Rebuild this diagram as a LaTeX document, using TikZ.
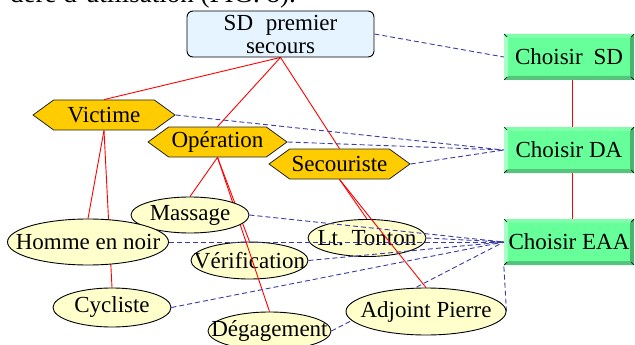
\documentclass[tikz,border=0pt]{standalone}
\usepackage{fontspec}
\setmainfont{Liberation Serif}
\usetikzlibrary{shapes.geometric,shapes.symbols}

\definecolor{sdblue}{HTML}{E6F4FF}
\definecolor{hexgold}{HTML}{FFCC00}
\definecolor{leafyellow}{HTML}{FFFFCC}
\definecolor{boxgreen}{HTML}{66FF99}
\definecolor{bevtop}{HTML}{80FFAA}
\definecolor{bevleft}{HTML}{A6FFC4}
\definecolor{bevbottom}{HTML}{55C47C}
\definecolor{bevright}{HTML}{4AB46E}
\definecolor{linkblue}{HTML}{3A3AA8}
\definecolor{treered}{HTML}{FF0000}

\pgfdeclarelayer{back}
\pgfsetlayers{back,main}

\newcommand\figfont{\fontsize{23pt}{23pt}\selectfont}
% zero-width text so that an ellipse keeps its given size
\newcommand\leaftext[1]{\makebox[0pt]{#1}}

\begin{document}
\begin{tikzpicture}[x=1pt,y=-1pt,
  every node/.style={font=\figfont, text=black},
  rootbox/.style={rectangle, rounded corners=6pt, draw=black, line width=0.9pt,
    fill=sdblue, minimum width=187pt, minimum height=46pt, inner sep=0pt, align=center},
  hexnode/.style={signal, signal to=west and east, signal pointer angle=72,
    draw=black!85, line width=0.8pt, fill=hexgold, inner xsep=0pt, inner ysep=0pt,
    minimum height=30pt},
  leaf/.style={ellipse, draw=black, line width=0.9pt, fill=leafyellow, inner sep=0pt},
  choicebox/.style={rectangle, fill=boxgreen, minimum width=130pt, minimum height=46pt,
    inner sep=0pt,
    path picture={
      \path (path picture bounding box.north west) coordinate (bnw)
            (path picture bounding box.north east) coordinate (bne)
            (path picture bounding box.south west) coordinate (bsw)
            (path picture bounding box.south east) coordinate (bse);
      \fill[bevtop] (bnw) -- (bne) -- ([shift={(-4pt,-4pt)}]bne) -- ([shift={(4pt,-4pt)}]bnw) -- cycle;
      \fill[bevleft] (bnw) -- (bsw) -- ([shift={(4pt,4pt)}]bsw) -- ([shift={(4pt,-4pt)}]bnw) -- cycle;
      \fill[bevbottom] (bsw) -- (bse) -- ([shift={(-4pt,4pt)}]bse) -- ([shift={(4pt,4pt)}]bsw) -- cycle;
      \fill[bevright] (bse) -- (bne) -- ([shift={(-4pt,-4pt)}]bne) -- ([shift={(-4pt,4pt)}]bse) -- cycle;
      \draw[black, line width=0.7pt] (bnw) -- ++(3pt,-3pt) (bsw) -- ++(3pt,3pt)
            (bne) -- ++(-3pt,-3pt) (bse) -- ++(-3pt,3pt);
    }},
  tree/.style={draw=treered, line width=0.9pt},
  link/.style={draw=linkblue, line width=0.9pt, dash pattern=on 5pt off 3pt}
]
\useasboundingbox (0,0) rectangle (635,345);

% running text of the page above the figure
\node[font=\fontsize{27pt}{27pt}\selectfont, anchor=base east, inner sep=0pt]
  (pagetext) at (296,3) {dere d'utilisation (FIG.~8).};

% root
\node[rootbox] (sd) at (280.5,34) {SD\hspace{0.55em}premier\\secours};

% categories
\node[hexnode, minimum width=142pt] (victime) at (104,115) {Victime};
\node[hexnode, minimum width=139pt] (operation) at (217.5,142) {Opération};
\node[hexnode, minimum width=141pt] (secouriste) at (339.5,164) {Secouriste};

% instances
\node[leaf, minimum width=118pt, minimum height=36pt] (massage) at (190,215) {\leaftext{Massage}};
\node[leaf, minimum width=161pt, minimum height=46pt] (homme) at (88,242) {\leaftext{Homme en noir}};
\node[leaf, minimum width=118pt, minimum height=39pt] (cycliste) at (112,307.5) {\leaftext{Cycliste}};
\node[leaf, minimum width=123pt, minimum height=38pt] (degagement) at (269.5,331) {\leaftext{Dégagement}};
\node[leaf, minimum width=160pt, minimum height=47pt] (adjoint) at (426,311.5) {\leaftext{Adjoint Pierre}};

% choices
\node[choicebox] (csd) at (569,57) {Choisir\hspace{0.47em}SD};
\node[choicebox] (cda) at (569,150) {Choisir DA};
\node[choicebox] (ceaa) at (569,242) {Choisir EAA};

\begin{pgfonlayer}{back}
  \node[leaf, minimum width=118pt, minimum height=37pt] (tonton) at (367,238) {\leaftext{Lt. Tonton}};
  \node[leaf, minimum width=117pt, minimum height=37pt] (verification) at (249.5,260.5) {\leaftext{Vérification}};

  % hierarchy
  \draw[tree] (sd.south) -- (victime.north);
  \draw[tree] (sd.south) -- (operation.north);
  \draw[tree] (sd.south) -- (secouriste.north);
  \draw[tree] (victime.south) -- (homme.north);
  \draw[tree] (victime.south) -- (cycliste.north);
  \draw[tree] (operation.south) -- (massage.north);
  \draw[tree] (operation.south) -- (verification.north);
  \draw[tree] (operation.south) -- (degagement.north);
  \draw[tree] (secouriste.south) -- (tonton.north);
  \draw[tree] (secouriste.south) -- (adjoint.north);
  \draw[tree] ([xshift=3pt]csd.south) -- ([xshift=3pt]cda.north);
  \draw[tree] ([xshift=3pt]cda.south) -- ([xshift=3pt]ceaa.north);

  % links to the choices
  \draw[link] (sd.east) -- (csd.west);
  \draw[link] (victime.east) -- (cda.west);
  \draw[link] (operation.east) -- (cda.west);
  \draw[link] (secouriste.east) -- (cda.west);
  \draw[link] (massage.east) -- (ceaa.west);
  \draw[link] (homme.east) -- (ceaa.west);
  \draw[link] (tonton.east) -- (ceaa.west);
  \draw[link] (verification.east) -- (ceaa.west);
  \draw[link] (cycliste.east) -- (ceaa.west);
  \draw[link] (degagement.east) -- (ceaa.west);
  \draw[link] (adjoint.east) -- (ceaa.south west);
\end{pgfonlayer}
\end{tikzpicture}
\end{document}
